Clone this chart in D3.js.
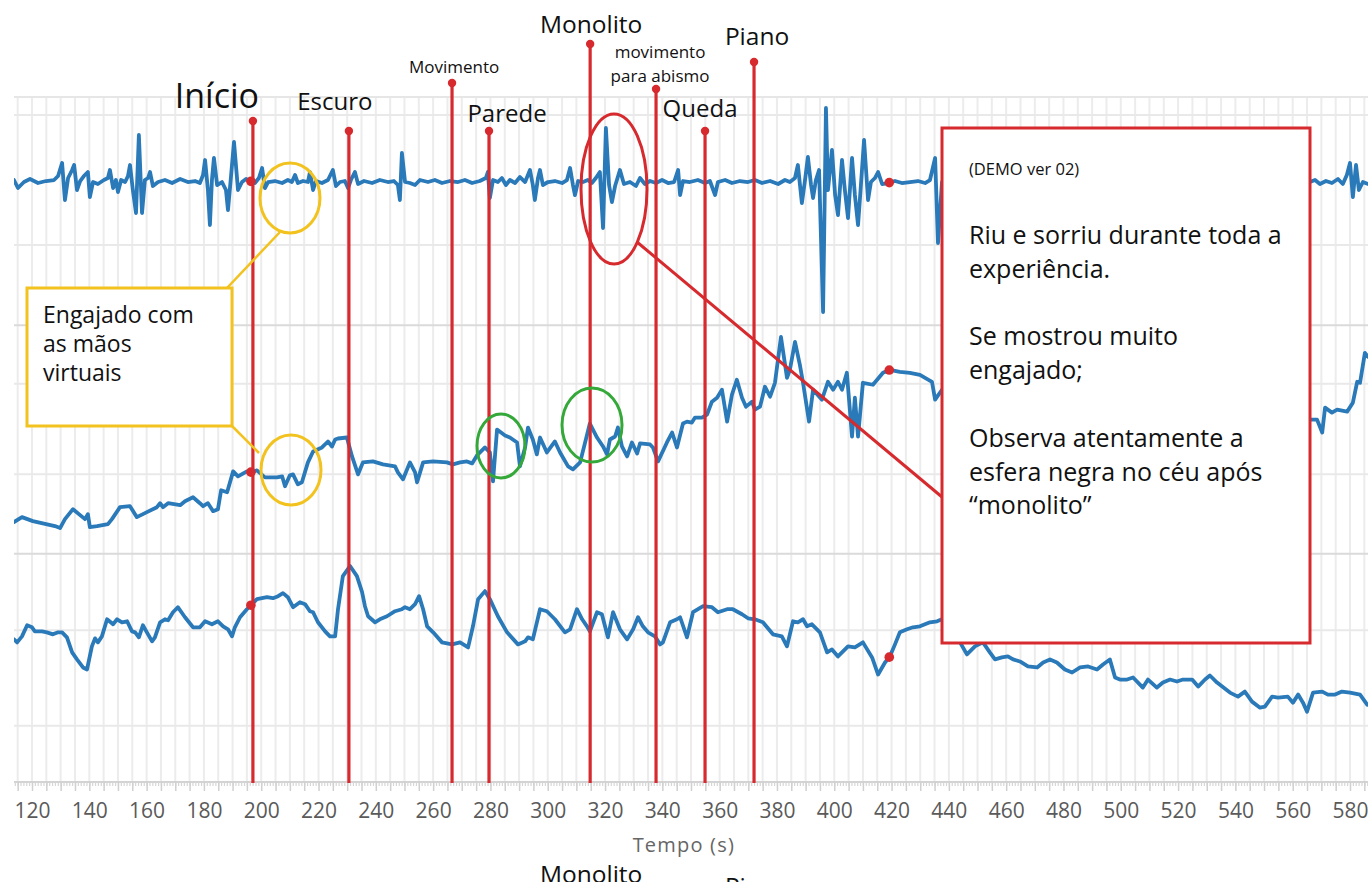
<!DOCTYPE html>
<html>
<head>
<meta charset="utf-8">
<script src="https://cdn.jsdelivr.net/npm/d3@7"></script>
<style>
  html, body { margin: 0; padding: 0; background: #fff; overflow: hidden; }
  svg { display: block; }
  text { font-family: "Open Sans", sans-serif; }
</style>
</head>
<body>
<div id="chart"></div>
<script>
// ---- data ----
const xTickLabels = d3.range(120, 581, 20);

const eventNames = ["Início", "Escuro", "Movimento", "Parede", "Monolito", "movimento|para abismo", "Queda", "Piano"];
const eventTimes = [197.1, 230.6, 266.6, 279.5, 314.8, 337.8, 354.9, 372.0];

const markerTimes = [196.4, 419.2];

// top signal (spiky)
const topSeries = [[113.7,0],[115.1,-8],[117.2,-2],[119.3,1],[122.1,-3],[124.9,-1],[127.7,0],[129.1,4],[130.5,17],[131.5,-20],[132.6,2],[134.0,10],[134.7,15],[135.7,-10],[136.8,-1],[138.1,4],[139.5,8],[140.2,-17],[141.3,-2],[143.0,-4],[145.1,0],[146.5,2],[147.2,10],[148.3,-8],[149.3,0],[150.0,-12],[151.1,0],[152.5,-2],[153.5,4],[154.2,15],[155.2,-10],[156.3,-33],[157.3,45],[158.4,-33],[159.4,0],[160.5,2],[161.2,8],[162.2,-6],[164.0,-2],[166.4,0],[168.9,-3],[171.7,1],[174.4,-2],[176.9,-1],[178.6,-3],[179.7,5],[180.4,20],[181.4,-10],[182.1,-45],[182.8,0],[183.5,22],[184.6,-5],[186.3,-2],[187.7,-10],[188.4,-30],[189.5,5],[190.5,38],[191.9,-10],[193.3,-2],[194.7,1],[196.1,-1],[197.8,-3],[199.2,2],[200.3,12],[201.3,-8],[202.4,-2],[204.8,-1],[207.3,-3],[209.3,0],[210.7,-2],[211.8,5],[212.8,-3],[214.6,-1],[216.3,-2],[217.0,8],[218.1,-10],[219.1,-1],[221.2,-3],[223.3,0],[225.0,10],[226.1,-6],[227.5,-2],[229.2,-1],[230.3,-8],[231.3,0],[232.7,8],[233.8,-4],[235.9,-1],[238.7,-3],[241.4,0],[244.2,-2],[246.3,-1],[247.7,-5],[248.4,-20],[249.1,27],[250.2,-2],[251.9,-3],[253.7,-5],[255.4,0],[258.2,-2],[260.6,0],[263.1,-3],[265.9,-1],[268.7,-2],[271.1,0],[273.6,-3],[276.3,-1],[278.4,2],[279.1,8],[279.8,-18],[280.9,0],[282.6,-2],[284.0,2],[285.4,-5],[286.8,0],[288.6,-3],[290.3,3],[292.1,-2],[293.8,10],[294.8,-5],[295.5,-20],[296.6,2],[297.3,10],[298.3,-5],[300.1,-2],[302.5,-1],[305.0,-3],[306.7,0],[307.8,12],[308.8,-5],[309.5,-15],[310.6,-1],[312.3,-2],[314.0,0],[315.4,-3],[316.8,2],[318.2,8],[319.3,-48],[320.3,52],[321.4,-5],[322.4,-22],[323.5,-6],[325.2,10],[326.6,-4],[328.7,-2],[330.8,-6],[332.2,2],[333.9,-4],[335.7,-1],[337.8,-3],[339.9,0],[342.0,-3],[344.1,-2],[345.5,10],[346.2,-15],[347.2,-1],[349.6,-2],[352.4,0],[354.9,-3],[356.6,-1],[358.4,-15],[359.4,-2],[361.9,0],[364.3,-3],[367.1,-1],[369.9,-2],[372.3,0],[374.8,-3],[377.6,-1],[380.4,-4],[382.8,0],[384.5,-2],[386.3,2],[387.3,15],[388.7,-23],[389.8,0],[390.8,23],[391.9,-5],[392.6,-18],[393.6,0],[394.7,10],[396.1,-132],[397.1,72],[397.8,-10],[399.2,30],[400.3,-15],[401.3,-35],[402.7,20],[403.7,-10],[404.8,-38],[406.2,22],[407.2,-15],[408.3,-45],[409.3,-5],[410.4,40],[411.8,-20],[412.8,-2],[414.2,2],[415.3,8],[416.7,-4],[418.7,-3],[421.2,-1],[423.6,-3],[426.4,-2],[429.2,-1],[431.7,-3],[433.4,0],[435.2,22],[436.2,-63],[437.6,-2],[457.8,-2],[492.7,-2],[527.6,-2],[562.5,-2],[566.0,-2],[567.8,0],[569.5,-4],[571.6,-1],[573.7,-3],[575.8,1],[577.5,-4],[578.9,5],[580.0,17],[581.0,-17],[582.1,15],[583.1,-10],[584.5,-2],[586.3,-4]];

// middle signal (slow, rising)
const midSeries = [[113.7,-48],[116.5,-43],[120.3,-47],[128.0,-52],[129.8,-54],[131.5,-45],[134.3,-35],[136.8,-41],[138.5,-45],[139.5,-40],[140.2,-53],[142.7,-52],[146.5,-50],[147.9,-45],[150.7,-33],[154.2,-32],[156.6,-43],[160.1,-38],[163.6,-33],[164.7,-29],[165.7,-33],[167.5,-29],[171.7,-31],[173.4,-27],[176.2,-23],[178.6,-29],[179.7,-32],[181.4,-29],[183.2,-37],[184.9,-35],[186.0,-16],[188.1,-18],[190.2,3],[191.9,-2],[195.0,3],[196.8,2],[198.5,4],[201.3,-3],[205.5,-3],[207.3,-2],[208.3,-12],[210.0,-1],[211.1,0],[212.8,-10],[214.2,-8],[216.3,12],[218.1,23],[221.2,27],[223.3,33],[224.7,28],[225.8,35],[226.8,36],[229.9,37],[231.7,18],[233.8,0],[235.5,12],[239.0,13],[242.5,10],[246.7,8],[247.7,2],[249.5,-5],[251.9,12],[253.7,2],[254.4,-8],[256.5,12],[260.0,13],[264.8,12],[266.9,10],[269.4,12],[271.8,13],[273.6,11],[275.3,19],[278.1,27],[279.8,22],[280.9,-7],[282.3,45],[285.1,39],[286.8,37],[289.3,32],[290.3,8],[292.1,27],[293.1,47],[294.8,35],[296.2,20],[297.3,37],[299.7,22],[302.5,33],[304.3,22],[307.1,8],[308.8,5],[311.3,12],[314.7,51],[317.2,37],[319.3,28],[320.7,20],[321.7,35],[323.5,38],[324.5,47],[325.9,28],[327.7,18],[329.4,32],[331.2,21],[332.2,31],[335.7,30],[336.7,27],[338.5,13],[341.6,32],[343.4,42],[345.1,27],[347.2,51],[348.6,53],[350.3,52],[351.4,57],[353.8,57],[355.6,60],[357.3,73],[359.1,77],[360.8,85],[362.6,53],[364.3,80],[366.0,95],[367.8,77],[369.2,68],[371.3,73],[372.3,65],[374.1,68],[375.8,88],[377.6,78],[379.3,92],[381.4,138],[383.5,97],[384.5,105],[386.3,133],[388.0,110],[389.1,92],[391.2,53],[392.6,85],[395.7,75],[397.8,93],[399.6,85],[401.3,93],[402.7,85],[404.4,102],[406.2,38],[407.2,77],[408.3,38],[410.0,92],[413.5,90],[417.0,102],[419.4,105],[422.9,103],[426.4,102],[429.9,100],[434.1,93],[435.2,75],[437.6,85],[457.8,83],[492.7,75],[527.6,65],[562.5,57],[566.0,55],[568.5,55],[570.3,42],[571.3,67],[573.7,62],[575.5,65],[579.0,63],[581.0,72],[582.5,93],[583.5,92],[585.2,122],[586.3,118]];

// bottom signal
const bottomSeries = [[113.7,86],[114.8,83],[116.5,89],[118.3,100],[120.0,98],[121.0,94],[123.5,94],[125.2,93],[127.3,91],[129.1,93],[130.5,93],[132.2,88],[134.0,73],[135.7,66],[137.8,58],[139.2,56],[140.9,79],[142.0,87],[143.0,83],[144.4,89],[146.2,106],[148.3,101],[149.7,106],[151.4,103],[153.2,104],[154.9,94],[156.0,93],[157.3,88],[158.7,100],[160.1,93],[161.9,84],[162.9,88],[164.7,103],[166.4,106],[167.5,105],[169.2,113],[170.9,118],[173.4,108],[176.2,98],[178.6,98],[180.4,104],[182.8,101],[184.9,104],[186.7,99],[188.4,96],[189.8,89],[190.8,98],[192.6,108],[195.0,116],[196.4,120],[198.5,126],[202.0,128],[204.1,127],[205.9,129],[207.6,132],[209.3,128],[211.1,118],[213.5,123],[215.3,121],[217.0,114],[218.1,113],[219.8,103],[222.3,94],[224.0,89],[225.8,89],[226.8,116],[228.5,149],[231.0,159],[233.4,149],[235.2,133],[236.2,119],[237.3,109],[239.7,103],[241.4,106],[243.9,109],[246.7,114],[249.1,116],[250.2,118],[251.9,116],[253.7,121],[255.1,129],[256.5,116],[257.9,99],[260.0,93],[263.1,83],[266.6,81],[269.4,83],[272.2,78],[273.9,99],[275.7,126],[278.1,134],[279.8,126],[282.6,109],[285.8,93],[289.6,81],[292.1,84],[293.1,88],[294.8,86],[297.3,116],[299.7,114],[302.5,106],[306.0,93],[307.8,96],[310.2,116],[312.0,106],[313.7,99],[314.7,94],[317.2,113],[318.9,111],[321.0,88],[322.8,113],[325.2,96],[327.7,86],[329.8,96],[331.5,108],[333.2,99],[335.0,93],[337.4,89],[339.2,81],[340.2,83],[342.7,103],[345.1,106],[346.2,108],[348.6,88],[350.7,113],[354.2,119],[357.3,118],[359.4,113],[362.6,116],[364.6,116],[367.8,111],[369.9,107],[372.3,106],[375.1,103],[378.6,91],[381.7,89],[383.5,79],[385.6,104],[387.3,103],[389.1,106],[390.5,99],[392.2,101],[395.0,93],[397.5,73],[399.2,76],[401.3,69],[404.8,79],[407.2,78],[410.0,83],[413.2,68],[415.3,51],[417.7,63],[419.4,69],[421.2,81],[422.9,93],[425.4,96],[427.5,98],[429.9,99],[433.4,103],[435.9,104],[437.6,106],[440.4,98],[443.9,83],[446.3,71],[449.1,79],[451.9,83],[454.3,73],[456.1,66],[458.5,68],[460.6,69],[462.4,66],[464.8,64],[467.6,59],[470.8,58],[472.9,63],[475.3,66],[477.7,63],[480.5,56],[483.0,53],[485.8,58],[488.6,59],[491.7,56],[493.8,61],[496.2,66],[498.0,48],[499.7,46],[502.2,46],[504.3,48],[507.7,38],[509.5,46],[512.6,38],[514.7,43],[517.2,46],[519.6,44],[521.7,46],[524.9,46],[527.0,39],[529.4,46],[531.1,50],[533.6,43],[538.1,33],[540.9,29],[543.3,34],[545.8,24],[548.6,18],[550.3,19],[552.8,29],[554.9,28],[558.3,29],[560.1,23],[561.9,31],[563.6,23],[565.0,14],[567.1,33],[570.3,34],[572.3,31],[574.8,31],[577.2,34],[580.0,33],[583.5,31],[586.0,21]];

// panel value domains and grid ticks (arbitrary units)
const panelDomains = [[-145.3, 83], [-79.7, 149.7], [-56, 171.3]];
const panelTicks = [[-65, 65], [0, 91], [0, 95]];

// annotation texts
const yellowNote = ["Engajado com", "as mãos", "virtuais"];
const redNoteTitle = "(DEMO ver 02)";
const redNote = ["Riu e sorriu durante toda a", "experiência.", "", "Se mostrou muito", "engajado;", "", "Observa atentamente a", "esfera negra no céu após", "“monolito”"];

// ---- layout ----
const W = 1368, H = 882;
const plotLeft = 14, plotRight = 1368, plotTop = 97, plotBottom = 782;
const RED = "#d62a2e", BLUE = "#2a79b8", YELLOW = "#f2c21f", GREEN = "#35a83a";

// label placement per event: [dx from line, baseline y, font size, dot y]
const eventLabelLayout = [[-36, 108, 34, 121], [-14, 110, 24, 131], [2, 73, 17, 83], [18, 122, 24, 131],
  [1, 33, 24.5, 44], [4, 58, 17, 89], [-5, 117, 24, 131], [3, 45, 24.5, 62]];

const svg = d3.select("#chart").append("svg").attr("width", W).attr("height", H);

const x = d3.scaleLinear().domain([120, 580]).range([32, 1350]);
const band = d3.scaleBand().domain([0, 1, 2]).range([plotTop, plotBottom]);
const yScales = panelDomains.map((d, i) =>
  d3.scaleLinear().domain(d).range([band(i) + band.bandwidth(), band(i)]));

svg.append("defs").append("clipPath").attr("id", "plot")
  .append("rect").attr("x", plotLeft).attr("y", plotTop)
  .attr("width", plotRight - plotLeft).attr("height", plotBottom - plotTop);

// grid
const grid = svg.append("g");
grid.selectAll("line.v").data(d3.range(115, 590, 5)).join("line")
  .attr("x1", d => x(d)).attr("x2", d => x(d))
  .attr("y1", plotTop).attr("y2", plotBottom)
  .attr("stroke", "#ececec").attr("stroke-width", 2);

panelTicks.forEach((ticks, i) => {
  grid.selectAll(null).data(ticks).join("line")
    .attr("x1", plotLeft).attr("x2", plotRight)
    .attr("y1", d => yScales[i](d)).attr("y2", d => yScales[i](d))
    .attr("stroke", "#e9e9e9").attr("stroke-width", 2);
  grid.append("line")
    .attr("x1", plotLeft).attr("x2", plotRight)
    .attr("y1", band(i)).attr("y2", band(i))
    .attr("stroke", i === 0 ? "#e6e6e6" : "#dadada").attr("stroke-width", 2);
});

// axis
const axisG = svg.append("g").attr("transform", `translate(0,${plotBottom})`);
axisG.append("line").attr("x1", plotLeft).attr("x2", plotRight)
  .attr("stroke", "#d3d3d3").attr("stroke-width", 2);
axisG.append("g")
  .call(d3.axisBottom(x).tickValues(d3.range(114, 587, 1)).tickSize(4).tickFormat(""))
  .call(g => g.select(".domain").remove())
  .call(g => g.selectAll("line").attr("stroke", "#d6d6d6").attr("stroke-width", 1.2));
axisG.append("g")
  .call(d3.axisBottom(x).tickValues(d3.range(115, 590, 5)).tickSize(9).tickFormat(""))
  .call(g => g.select(".domain").remove())
  .call(g => g.selectAll("line").attr("stroke", "#d0d0d0").attr("stroke-width", 1.5));
axisG.append("g")
  .call(d3.axisBottom(x).tickValues(xTickLabels).tickSize(0).tickPadding(21).tickFormat(d3.format("d")))
  .call(g => g.select(".domain").remove())
  .call(g => g.selectAll("text").attr("font-size", 21).attr("fill", "#5a5a5a")
    .attr("font-family", "'Open Sans', sans-serif"));

svg.append("text").attr("x", x(347.5)).attr("y", 852).attr("text-anchor", "middle")
  .attr("font-size", 20).attr("letter-spacing", "1.2px").attr("fill", "#666").text("Tempo (s)");

// series
const allSeries = [topSeries, midSeries, bottomSeries];
const series = svg.append("g").attr("clip-path", "url(#plot)");
allSeries.forEach((data, i) => {
  const line = d3.line().x(d => x(d[0])).y(d => yScales[i](d[1]));
  series.append("path").datum(data).attr("d", line)
    .attr("fill", "none").attr("stroke", BLUE).attr("stroke-width", 3.8)
    .attr("stroke-linejoin", "round").attr("stroke-linecap", "round");
});

// event lines and labels
const ev = svg.append("g");
eventTimes.forEach((t, i) => {
  const [dx, ly, fs, dotY] = eventLabelLayout[i];
  ev.append("line").attr("x1", x(t)).attr("x2", x(t)).attr("y1", dotY).attr("y2", plotBottom + 1)
    .attr("stroke", RED).attr("stroke-width", 3.2);
  ev.append("circle").attr("cx", x(t)).attr("cy", dotY).attr("r", 4.2).attr("fill", RED);
  const lines = eventNames[i].split("|");
  const txt = ev.append("text").attr("text-anchor", "middle").attr("font-size", fs).attr("fill", "#111");
  lines.forEach((s, k) => txt.append("tspan").attr("x", x(t) + dx).attr("y", ly + k * 24).text(s));
});

// markers on each series
function valueAt(data, t) {
  const i = d3.bisector(d => d[0]).right(data, t);
  const a = data[Math.max(0, i - 1)], b = data[Math.min(data.length - 1, i)];
  if (b[0] === a[0]) return a[1];
  return a[1] + (b[1] - a[1]) * (t - a[0]) / (b[0] - a[0]);
}
allSeries.forEach((data, i) => {
  markerTimes.forEach(t => {
    svg.append("circle").attr("cx", x(t)).attr("cy", yScales[i](valueAt(data, t)))
      .attr("r", 4.8).attr("fill", RED);
  });
});

// ---- annotations ----
const ann = svg.append("g").attr("fill", "none");

// yellow callout
ann.append("ellipse").attr("cx", 290).attr("cy", 198).attr("rx", 30).attr("ry", 35)
  .attr("stroke", YELLOW).attr("stroke-width", 3);
ann.append("ellipse").attr("cx", 291).attr("cy", 470).attr("rx", 30).attr("ry", 35)
  .attr("stroke", YELLOW).attr("stroke-width", 3);
ann.append("line").attr("x1", 227).attr("y1", 288).attr("x2", 280).attr("y2", 232)
  .attr("stroke", YELLOW).attr("stroke-width", 2.5);
ann.append("line").attr("x1", 232).attr("y1", 426).attr("x2", 259).attr("y2", 453)
  .attr("stroke", YELLOW).attr("stroke-width", 2.5);
ann.append("rect").attr("x", 27).attr("y", 288).attr("width", 205).attr("height", 138)
  .attr("fill", "#fff").attr("stroke", YELLOW).attr("stroke-width", 3);
const yt = ann.append("text").attr("fill", "#111").attr("font-size", 23);
yellowNote.forEach((s, k) => yt.append("tspan").attr("x", 43).attr("y", 323 + k * 29).text(s));

// green circles
ann.append("ellipse").attr("cx", 501).attr("cy", 446).attr("rx", 24).attr("ry", 32)
  .attr("stroke", GREEN).attr("stroke-width", 3);
ann.append("ellipse").attr("cx", 592).attr("cy", 425).attr("rx", 30).attr("ry", 37)
  .attr("stroke", GREEN).attr("stroke-width", 3);

// red callout
ann.append("ellipse").attr("cx", 614).attr("cy", 189).attr("rx", 33).attr("ry", 75)
  .attr("stroke", RED).attr("stroke-width", 3);
ann.append("line").attr("x1", 637).attr("y1", 242).attr("x2", 942).attr("y2", 497)
  .attr("stroke", RED).attr("stroke-width", 3);
ann.append("rect").attr("x", 942).attr("y", 128).attr("width", 368).attr("height", 515)
  .attr("fill", "#fff").attr("stroke", RED).attr("stroke-width", 3);
ann.append("text").attr("x", 969).attr("y", 175).attr("fill", "#111").attr("font-size", 16.5).text(redNoteTitle);
const rt = ann.append("text").attr("fill", "#111").attr("font-size", 25);
redNote.forEach((s, k) => { if (s) rt.append("tspan").attr("x", 969).attr("y", 244 + k * 33.8).text(s); });

// cropped duplicate labels at the very bottom edge (cut off in the source image too)
[4, 7].forEach(i => {
  const [dx, ly, fs] = eventLabelLayout[i];
  svg.append("text").attr("x", x(eventTimes[i]) + dx).attr("y", ly + 850)
    .attr("text-anchor", "middle").attr("font-size", fs).attr("fill", "#111").text(eventNames[i]);
});
</script>
</body>
</html>
